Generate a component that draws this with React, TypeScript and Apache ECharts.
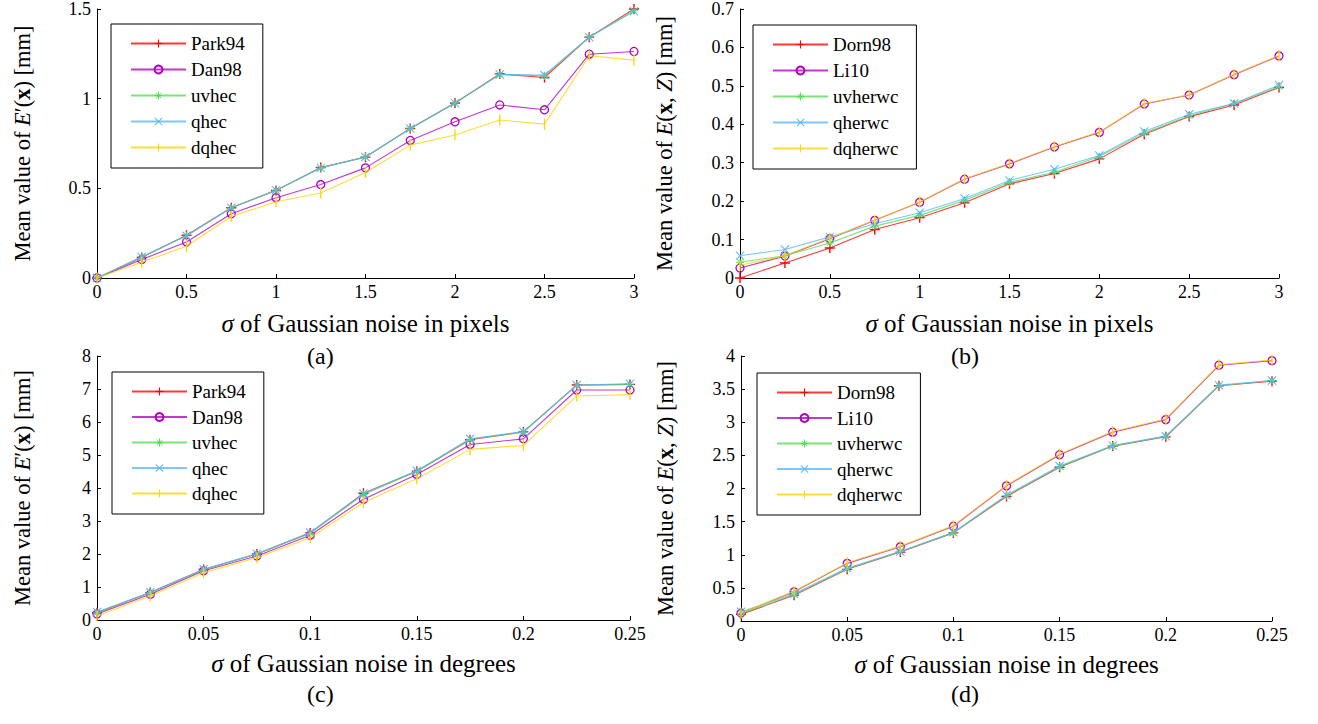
import React, { useEffect, useRef } from "react";
import * as echarts from "echarts";

// x values (noise sigma)
const PIX_X = [0, 0.25, 0.5, 0.75, 1, 1.25, 1.5, 1.75, 2, 2.25, 2.5, 2.75, 3];
const DEG_X = [0, 0.025, 0.05, 0.075, 0.1, 0.125, 0.15, 0.175, 0.2, 0.225, 0.25];

// (a) pixels, E'(x)
const park94A = [0, 0.115, 0.238, 0.392, 0.488, 0.616, 0.674, 0.834, 0.976, 1.138, 1.118, 1.343, 1.5];
const dan98A = [0, 0.103, 0.201, 0.358, 0.448, 0.521, 0.614, 0.767, 0.871, 0.965, 0.938, 1.248, 1.263];
const uvhecA = [0, 0.117, 0.235, 0.39, 0.489, 0.613, 0.676, 0.833, 0.977, 1.134, 1.128, 1.344, 1.49];
const qhecA = [0, 0.118, 0.236, 0.392, 0.49, 0.614, 0.675, 0.834, 0.975, 1.135, 1.132, 1.343, 1.488];
const dqhecA = [0, 0.088, 0.177, 0.343, 0.425, 0.474, 0.588, 0.741, 0.797, 0.881, 0.858, 1.239, 1.215];

// (b) pixels, E(x, Z)
const dorn98B = [0, 0.039, 0.078, 0.126, 0.157, 0.196, 0.245, 0.272, 0.31, 0.374, 0.42, 0.45, 0.496];
const li10B = [0.026, 0.057, 0.102, 0.15, 0.197, 0.257, 0.297, 0.341, 0.379, 0.453, 0.476, 0.529, 0.578];
const uvherwcB = [0.041, 0.058, 0.091, 0.135, 0.163, 0.202, 0.249, 0.275, 0.316, 0.377, 0.422, 0.454, 0.498];
const qherwcB = [0.058, 0.074, 0.107, 0.141, 0.17, 0.207, 0.254, 0.283, 0.319, 0.381, 0.426, 0.454, 0.502];
const dqherwcB = [0.033, 0.058, 0.104, 0.151, 0.198, 0.258, 0.298, 0.342, 0.38, 0.454, 0.477, 0.53, 0.579];

// (c) degrees, E'(x)
const park94C = [0.22, 0.83, 1.53, 2.0, 2.64, 3.84, 4.51, 5.46, 5.7, 7.12, 7.14];
const dan98C = [0.18, 0.78, 1.49, 1.94, 2.57, 3.66, 4.41, 5.32, 5.49, 6.97, 6.97];
const uvhecC = [0.22, 0.83, 1.52, 2.0, 2.63, 3.8, 4.5, 5.48, 5.69, 7.11, 7.14];
const qhecC = [0.24, 0.84, 1.54, 2.01, 2.65, 3.83, 4.52, 5.49, 5.71, 7.12, 7.16];
const dqhecC = [0.12, 0.73, 1.43, 1.89, 2.49, 3.56, 4.28, 5.17, 5.29, 6.79, 6.83];

// (d) degrees, E(x, Z)
const dorn98D = [0.1, 0.39, 0.78, 1.04, 1.33, 1.88, 2.32, 2.64, 2.78, 3.55, 3.62];
const li10D = [0.12, 0.44, 0.87, 1.12, 1.43, 2.04, 2.51, 2.85, 3.04, 3.86, 3.93];
const uvherwcD = [0.11, 0.4, 0.79, 1.05, 1.33, 1.89, 2.33, 2.64, 2.79, 3.55, 3.63];
const qherwcD = [0.14, 0.41, 0.8, 1.05, 1.34, 1.9, 2.34, 2.65, 2.79, 3.56, 3.63];
const dqherwcD = [0.12, 0.45, 0.88, 1.13, 1.44, 2.05, 2.52, 2.86, 3.05, 3.87, 3.94];

const LEGEND_A = ["Park94", "Dan98", "uvhec", "qhec", "dqhec"];
const LEGEND_B = ["Dorn98", "Li10", "uvherwc", "qherwc", "dqherwc"];
const CAPTIONS = ["(a)", "(b)", "(c)", "(d)"];

const FONT = "'Liberation Serif', 'DejaVu Serif', serif";

// degenerate corner sub-paths keep every mark's bounding box square
const BOX = "M-5,-5L-5,-5ZM5,5L5,5Z";
const PLUS = "path://" + BOX + "M-0.7,-5H0.7V-0.7H5V0.7H0.7V5H-0.7V0.7H-5V-0.7H-0.7Z";
const XMARK = "path://" + BOX + "M-5,-4.2L-4.2,-5L5,4.2L4.2,5ZM4.2,-5L5,-4.2L-4.2,5L-5,4.2Z";
const ASTER =
  "path://" + BOX +
  "M-0.6,-5H0.6V-0.6H5V0.6H0.6V5H-0.6V0.6H-5V-0.6H-0.6Z" +
  "M-3.8,-3.2L-3.2,-3.8L3.8,3.2L3.2,3.8ZM3.2,-3.8L3.8,-3.2L-3.2,3.8L-3.8,3.2Z";
const BAR = "path://" + BOX + "M-0.6,-5H0.6V5H-0.6Z";

const RED = "#ff0000";
const PURPLE = "#b000c0";
const GREEN = "#55dd55";
const BLUE = "#55b8ff";
const YELLOW = "#ffd400";

type Sty = { color: string; symbol: string; size: number; empty?: boolean };
const STYLES: Sty[] = [
  { color: RED, symbol: PLUS, size: 10 },
  { color: PURPLE, symbol: "circle", size: 8, empty: true },
  { color: GREEN, symbol: ASTER, size: 8 },
  { color: BLUE, symbol: XMARK, size: 9 },
  { color: YELLOW, symbol: BAR, size: 11 },
];

function mkSeries(name: string, xs: number[], ys: number[], idx: number, k: number) {
  const s = STYLES[k];
  return {
    type: "line",
    name,
    xAxisIndex: idx,
    yAxisIndex: idx,
    data: xs.map((x, i) => [x, ys[i]]),
    symbol: s.symbol,
    symbolSize: s.size,
    showAllSymbol: true,
    lineStyle: { color: s.color, width: 1.1, opacity: 0.78 },
    itemStyle: s.empty
      ? { color: "rgba(0,0,0,0)", borderColor: s.color, borderWidth: 1.3 }
      : { color: s.color, borderWidth: 0 },
    emphasis: { disabled: true },
    z: 2 + k,
  };
}

function richSet(size: number) {
  return {
    n: { fontSize: size, fontFamily: FONT, color: "#000" },
    i: { fontSize: size, fontFamily: FONT, fontStyle: "italic", color: "#000" },
    b: { fontSize: size, fontFamily: FONT, fontWeight: "bold", color: "#000" },
  };
}

export default function App() {
  const ref = useRef<HTMLDivElement>(null);
  useEffect(() => {
    if (!ref.current) return;
    const chart = echarts.init(ref.current, null, { renderer: "svg" });

    const grids = [
      { left: 97, top: 9, width: 537, height: 269 },
      { left: 740, top: 9, width: 539, height: 269 },
      { left: 97, top: 356, width: 533, height: 264 },
      { left: 741, top: 356, width: 531, height: 265 },
    ];
    const yMax = [1.5, 0.7, 8, 4];
    const yInt = [0.5, 0.1, 1, 0.5];
    const xMax = [3, 3, 0.25, 0.25];
    const xInt = [0.5, 0.5, 0.05, 0.05];
    const xNames = [
      "{i|σ}{n| of Gaussian noise in pixels}",
      "{i|σ}{n| of Gaussian noise in pixels}",
      "{i|σ}{n| of Gaussian noise in degrees}",
      "{i|σ}{n| of Gaussian noise in degrees}",
    ];
    const yNames = [
      "{n|Mean value of }{i|E}{n|′(}{b|x}{n|) [mm]}",
      "{n|Mean value of }{i|E}{n|(}{b|x}{n|, }{i|Z}{n|) [mm]}",
      "{n|Mean value of }{i|E}{n|′(}{b|x}{n|) [mm]}",
      "{n|Mean value of }{i|E}{n|(}{b|x}{n|, }{i|Z}{n|) [mm]}",
    ];
    const axisCommon = {
      axisLine: { show: true, lineStyle: { color: "#000", width: 1 } },
      axisTick: { show: true, inside: true, length: 4, lineStyle: { color: "#000" } },
      splitLine: { show: false },
      axisLabel: { color: "#000", fontSize: 18, fontFamily: FONT },
    };
    const xAxis = grids.map((_, i) => ({
      type: "value",
      gridIndex: i,
      min: 0,
      max: xMax[i],
      interval: xInt[i],
      name: xNames[i],
      nameLocation: "middle",
      nameGap: i < 2 ? 33 : 31,
      nameTextStyle: { rich: richSet(25) },
      ...axisCommon,
      axisLabel: { ...axisCommon.axisLabel, margin: 5 },
    }));
    const yAxis = grids.map((_, i) => ({
      type: "value",
      gridIndex: i,
      min: 0,
      max: yMax[i],
      interval: yInt[i],
      name: yNames[i],
      nameLocation: "middle",
      nameRotate: 90,
      nameGap: i % 2 === 0 ? 63 : 64,
      nameTextStyle: { rich: richSet(22.5) },
      ...axisCommon,
      axisLabel: { ...axisCommon.axisLabel, margin: 6 },
    }));

    const series = [
      ...[park94A, dan98A, uvhecA, qhecA, dqhecA].map((d, k) => mkSeries(LEGEND_A[k], PIX_X, d, 0, k)),
      ...[dorn98B, li10B, uvherwcB, qherwcB, dqherwcB].map((d, k) => mkSeries(LEGEND_B[k], PIX_X, d, 1, k)),
      ...[park94C, dan98C, uvhecC, qhecC, dqhecC].map((d, k) => mkSeries(LEGEND_A[k], DEG_X, d, 2, k)),
      ...[dorn98D, li10D, uvherwcD, qherwcD, dqherwcD].map((d, k) => mkSeries(LEGEND_B[k], DEG_X, d, 3, k)),
    ];

    const legendPos = [
      { left: 111, top: 24 },
      { left: 753, top: 25 },
      { left: 112, top: 372 },
      { left: 757, top: 373 },
    ];
    const legend = legendPos.map((p, i) => ({
      ...p,
      orient: "vertical",
      data: i % 2 === 0 ? LEGEND_A : LEGEND_B,
      borderColor: "#000",
      borderWidth: 1,
      padding: [10, 18, 11, 19],
      itemWidth: 55,
      itemHeight: 10,
      itemGap: i < 2 ? 7 : 6.5,
      selectedMode: false,
      textStyle: { fontSize: 19, fontFamily: FONT, color: "#000" },
    }));

    const capPos = [
      { left: 307, top: 344 },
      { left: 951, top: 344 },
      { left: 307, top: 682 },
      { left: 951, top: 682 },
    ];
    const title = CAPTIONS.map((t, i) => ({
      text: t,
      ...capPos[i],
      padding: 0,
      textStyle: { fontSize: 24, fontWeight: "normal", fontFamily: FONT, color: "#000" },
    }));

    chart.setOption({
      animation: false,
      backgroundColor: "#fff",
      textStyle: { fontFamily: FONT },
      title,
      grid: grids,
      xAxis,
      yAxis,
      legend,
      series,
    });
    return () => chart.dispose();
  }, []);
  return (
    <div
      ref={ref}
      style={{ position: "absolute", left: 0, top: 0, width: 1318, height: 724 }}
    />
  );
}
